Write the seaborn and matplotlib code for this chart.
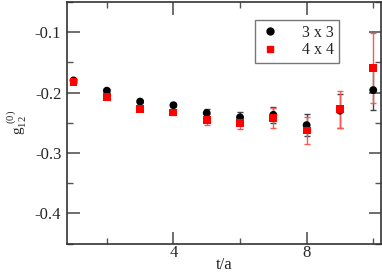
import matplotlib
matplotlib.use("Agg")
import matplotlib.pyplot as plt
import seaborn as sns
import pandas as pd
from matplotlib.ticker import MultipleLocator

t = [1, 2, 3, 4, 5, 6, 7, 8, 9, 10]
g33 = [-0.180, -0.197, -0.215, -0.221, -0.234, -0.241, -0.237, -0.254, -0.230, -0.196]
e33 = [0.002, 0.002, 0.002, 0.003, 0.007, 0.009, 0.013, 0.018, 0.028, 0.033]
g44 = [-0.183, -0.207, -0.227, -0.233, -0.245, -0.250, -0.242, -0.263, -0.228, -0.160]
e44 = [0.002, 0.002, 0.003, 0.005, 0.009, 0.010, 0.017, 0.022, 0.030, 0.058]
labels = ["3 x 3", "4 x 4"]

sns.set_theme(style="ticks")
plt.rcParams['font.family'] = ['Liberation Serif', 'DejaVu Serif']

df = pd.DataFrame({
    "t": t * 2,
    "g": g33 + g44,
    "err": e33 + e44,
    "lattice": [labels[0]] * len(t) + [labels[1]] * len(t),
})

fig = plt.figure(figsize=(3.82, 2.73), dpi=100)
ax = fig.add_axes([0.175, 0.108, 0.823, 0.885])

colors = {labels[0]: "black", labels[1]: "red"}
ecolors = {labels[0]: "#444444", labels[1]: "#ff5555"}
markers = {labels[0]: "o", labels[1]: "s"}

for lab in labels:
    sub = df[df["lattice"] == lab]
    ax.errorbar(sub["t"], sub["g"], yerr=sub["err"], fmt="none",
                ecolor=ecolors[lab], elinewidth=1.0, capsize=2, capthick=1.0, zorder=2)

sns.scatterplot(data=df, x="t", y="g", hue="lattice", style="lattice",
                palette=colors, markers=markers, s=32, edgecolor="none",
                ax=ax, zorder=3, legend=False)

handles = [plt.Line2D([], [], marker=markers[l], color=colors[l], linestyle="none", markersize=5)
           for l in labels]
leg = ax.legend(handles, labels, loc="upper left", bbox_to_anchor=(0.6, 0.925),
                frameon=True, fancybox=False, fontsize=11.5, handletextpad=1.4,
                borderpad=0.3, labelspacing=0.1, handlelength=1.2, borderaxespad=0)
leg.get_frame().set_edgecolor("#555555")
leg.get_frame().set_linewidth(1.0)

ax.set_xlim(0.8, 10.24)
ax.set_ylim(-0.45, -0.05)
ax.xaxis.set_major_locator(MultipleLocator(4))
ax.xaxis.set_minor_locator(MultipleLocator(2))
ax.yaxis.set_major_locator(MultipleLocator(0.1))
ax.yaxis.set_minor_locator(MultipleLocator(0.05))
ax.set_xticks([4, 8])
ax.set_yticks([-0.4, -0.3, -0.2, -0.1])
ax.set_yticklabels(["-0.4", "-0.3", "-0.2", "-0.1"])
ax.tick_params(which="both", direction="in", top=True, right=True, color="#555555", labelsize=12, pad=4)
ax.tick_params(axis="x", which="both", pad=1)
ax.tick_params(which="major", length=9, width=1.2)
ax.tick_params(which="minor", length=4, width=1.0)
for s in ax.spines.values():
    s.set_linewidth(1.2)
    s.set_color("#333333")

ax.set_xlabel("t/a", fontsize=12, va="center")
ax.xaxis.set_label_coords(0.5, -0.09)
ax.set_ylabel(r"$\mathregular{g_{12}^{\ (0)}}$", fontsize=11, labelpad=4)

fig.savefig("out.png", dpi=100)
